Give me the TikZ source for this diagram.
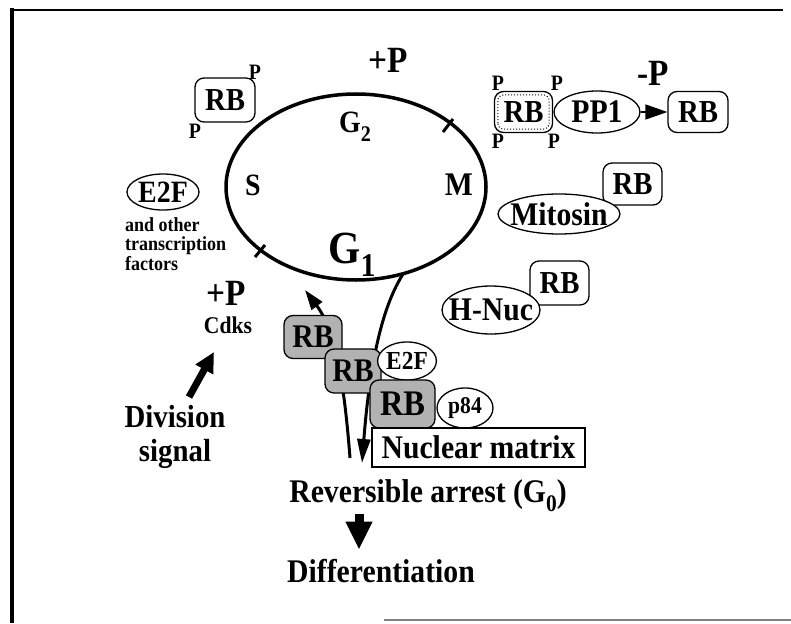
\documentclass[tikz,border=0pt]{standalone}
\usepackage{fontspec}
\usepackage{graphicx}
\setmainfont{Liberation Serif}[FakeStretch=0.9]
\usetikzlibrary{arrows.meta,shapes.geometric}

\newcommand{\fsz}[1]{\fontsize{#1}{#1}\selectfont}
\newcommand{\lowsub}[1]{\raisebox{-0.3em}{\scalebox{0.72}{#1}}}

\tikzset{
  lbl/.style={font=\bfseries\fsz{33}, inner sep=0pt},
  rbbox/.style={draw, line width=1.3pt, rounded corners=9pt, fill=white, inner sep=0pt,
    font=\bfseries\fsz{32}, minimum width=60pt, minimum height=43pt},
  rbgray/.style={rbbox, fill=gray!60},
  partner/.style={draw, ellipse, line width=1.3pt, fill=white, inner sep=0pt, font=\bfseries\fsz{33}},
  phos/.style={font=\bfseries\fsz{22}, inner sep=0pt, anchor=base},
}

\begin{document}
\begin{tikzpicture}[x=1pt, y=-1pt]
  \useasboundingbox (0,0) rectangle (791,623);
  % frame
  \draw[line width=4pt] (12,8) -- (12,623);
  \draw[line width=2.5pt] (10,10) -- (783,10);
  \draw[line width=2pt, gray] (384,619.5) -- (791,619.5);

  % cell cycle
  \coordinate (cyc) at (356,187);
  \draw[line width=3.5pt] (cyc) ellipse [x radius=130, y radius=93];
  \draw[line width=3pt] (443,132) -- (453,119);
  \draw[line width=3pt] (265,245) -- (255,257);
  \node[lbl, font=\bfseries\fsz{31}, anchor=base] (g2) at (355,132) {G\lowsub{2}};
  \node[lbl, font=\bfseries\fsz{31}, anchor=base] (s) at (253,195) {S};
  \node[lbl, anchor=base] (m) at (459,195) {M};
  \node[lbl, font=\bfseries\fsz{46}, anchor=base] (g1) at (352,263) {G\lowsub{1}};
  \node[lbl, font=\bfseries\fsz{37}, anchor=base] (ptop) at (388,73) {+P};

  % phosphorylated RB
  \node[rbbox, minimum height=44pt] (rbtl) at (225,100) {RB};
  \node[phos] (p1) at (255,80) {P};
  \node[phos] (p2) at (195,138) {P};

  % E2F and factors
  \node[partner, font=\bfseries\fsz{31}, minimum width=72pt, minimum height=36pt] (e2f) at (163,192) {E2F};
  \node[font=\bfseries\fontsize{20}{19.5}\selectfont, align=left, anchor=north west, inner sep=0pt]
    (tf) at (125,217) {and other\\transcription\\factors};

  % Cdks and division signal
  \node[lbl, font=\bfseries\fsz{37}, anchor=base] (pcdk) at (226,305) {+P};
  \node[lbl, font=\bfseries\fsz{24}, anchor=base] (cdks) at (228,333) {Cdks};
  \node[lbl, font=\bfseries\fsz{32}, anchor=base] (div) at (175,427) {Division};
  \node[lbl, font=\bfseries\fsz{32}, anchor=base] (sig) at (175,461) {signal};
  \coordinate (sigtail) at (189,397);
  \coordinate (sigtip) at (214,352);
  \draw[line width=7pt, -{Triangle[width=19pt,length=20pt]}] (sigtail) -- (sigtip);

  % PP1 dephosphorylation
  \node[rbbox, minimum width=58pt, minimum height=41pt] (rbp) at (523.5,112) {RB};
  \draw[dotted, line width=1pt, rounded corners=6pt]
    ([xshift=4pt,yshift=4pt]rbp.south west) rectangle ([xshift=-4pt,yshift=-4pt]rbp.north east);
  \node[phos] (p3) at (498,91) {P};
  \node[phos] (p4) at (557,91) {P};
  \node[phos] (p5) at (498,148) {P};
  \node[phos] (p6) at (554,148) {P};
  \node[partner, minimum width=86pt, minimum height=42pt] (pp1) at (597,112) {PP1};
  \node[rbbox, minimum height=41pt] (rbdp) at (698,112) {RB};
  \draw[line width=1.5pt, -{Triangle[width=15pt,length=22pt]}] (pp1) -- (rbdp);
  \node[lbl, font=\bfseries\fsz{37}, anchor=base] (dephos) at (653,85) {-P};

  % Mitosin and H-Nuc
  \node[rbbox, minimum width=59pt, minimum height=42pt] (rbmit) at (632.5,184) {RB};
  \node[partner, inner xsep=-6pt, minimum width=122pt, minimum height=40pt] (mit) at (559,214) {Mitosin};
  \node[rbbox, minimum width=59pt, minimum height=44pt] (rbhn) at (559.5,283) {RB};
  \node[partner, inner xsep=-8pt, minimum width=98pt, minimum height=48pt] (hnuc) at (491,310) {H-Nuc};

  % exit and re-entry
  \coordinate (cycb) at (403,274);
  \coordinate (arrestin) at (362,463);
  \coordinate (arrestout) at (350,458);
  \coordinate (reentry) at (305,290);
  \draw[line width=3pt, -{Triangle[width=13pt,length=24pt]}]
    (cycb) .. controls (390,295) and (372,335) .. (arrestin);
  \draw[line width=3pt, -{Triangle[width=13pt,length=20pt]}]
    (arrestout) .. controls (344,380) and (335,330) .. (reentry);

  % RB complexes
  \node[rbgray, minimum width=58pt, font=\bfseries\fsz{33}] (rb1) at (313,337) {RB};
  \node[rbgray, minimum width=56pt, minimum height=44pt, font=\bfseries\fsz{33}] (rb2) at (353,371) {RB};
  \node[partner, font=\bfseries\fsz{26}, minimum width=58pt, minimum height=38pt] (e2fb) at (407,361) {E2F};
  \node[rbgray, minimum width=65pt, minimum height=48pt, font=\bfseries\fsz{36}] (rb3) at (402.5,404) {RB};
  \node[partner, font=\bfseries\fsz{24}, minimum width=56pt, minimum height=40pt] (p84) at (465,408) {p84};
  \node[draw, line width=1.5pt, fill=white, minimum width=213pt, minimum height=39pt, inner sep=0pt,
    font=\bfseries\fsz{33}] (nm) at (478.5,447.5) {Nuclear matrix};

  % arrest and differentiation
  \node[lbl, anchor=base] (arrest) at (428,502) {Reversible arrest (G\lowsub{0})};
  \node[lbl, anchor=base] (diff) at (381,582) {Differentiation};
  \coordinate (gzero) at (359,0);
  \draw[line width=9pt, shorten <=2pt, shorten >=9pt, -{Triangle[width=25pt,length=28pt]}]
    (arrest.south -| gzero) -- (diff.north -| gzero);
\end{tikzpicture}
\end{document}
